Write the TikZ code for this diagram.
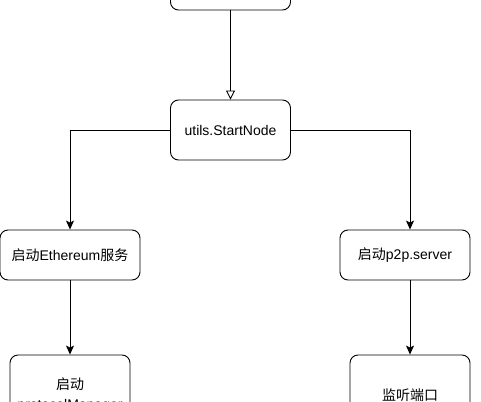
\documentclass[tikz,border=0pt]{standalone}
\usepackage{fontspec}
\setmainfont{Liberation Sans}
\newfontfamily\cjk{Noto Sans CJK SC}
\usetikzlibrary{arrows.meta}

\begin{document}
\begin{tikzpicture}[x=1pt, y=-1pt,
  flowbox/.style={draw, line width=0.9pt, rounded corners=8pt, inner sep=0pt,
    align=center, font=\fontsize{14}{20}\selectfont},
  link/.style={draw, line width=0.9pt},
  arrowlink/.style={link, -{Stealth[length=9pt, width=8pt, inset=2pt]}}]
\useasboundingbox (0,0) rectangle (481,401);
% top row
\node[flowbox, minimum width=120pt, minimum height=60pt] (prev) at (230.5,-20) {};
\node[flowbox, minimum width=120pt, minimum height=60pt] (startnode) at (230.5,130) {utils.StartNode};
% middle row
\node[flowbox, minimum width=140pt, minimum height=50pt] (eth) at (70,255) {{\cjk 启动}Ethereum{\cjk 服务}};
\node[flowbox, minimum width=130pt, minimum height=50pt] (p2p) at (405,255) {{\cjk 启动}p2p.server};
% bottom row
\node[flowbox, minimum width=120pt, minimum height=80pt] (pm) at (70,395) {{\cjk 启动}\\protocolManager};
\node[flowbox, minimum width=120pt, minimum height=80pt] (listen) at (410,395) {{\cjk 监听端口}};
% connectors
\draw[link, -{Triangle[open, length=9pt, width=9pt]}] (prev) -- (startnode);
\draw[arrowlink] (startnode.west) -| (eth.north);
\draw[arrowlink] (startnode.east) -| (listen.north |- p2p.north);
\draw[arrowlink] (eth) -- (pm);
\draw[arrowlink] (p2p.south -| listen.north) -- (listen.north);
\end{tikzpicture}
\end{document}
